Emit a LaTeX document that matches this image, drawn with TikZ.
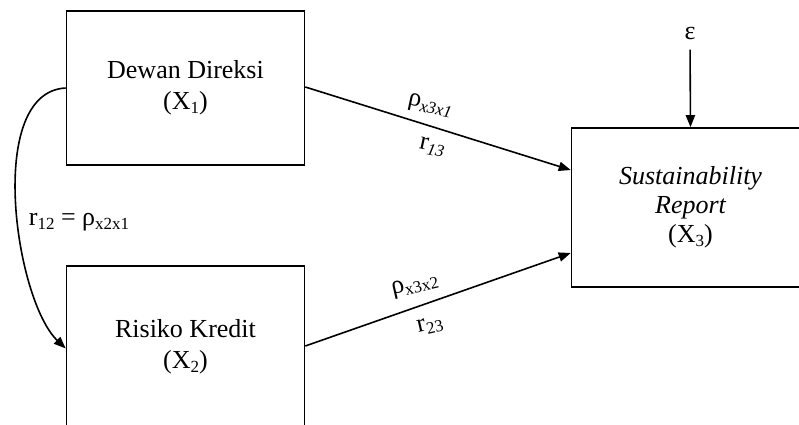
\documentclass[tikz,border=0pt]{standalone}
\usepackage{fontspec}
\setmainfont{Liberation Serif}
\usetikzlibrary{arrows.meta}

% lowered small index used in the variable names and path coefficients
\newcommand\lowsub[1]{\raisebox{-0.35ex}{\fontsize{8.5}{9}\selectfont #1}}

\begin{document}
\begin{tikzpicture}[x=0.5pt,y=-0.5pt,
  varbox/.style={draw,line width=0.8pt,minimum width=119pt,align=center,
    font=\fontsize{13}{15.5}\selectfont,inner sep=0pt},
  link/.style={line width=0.8pt,-{Triangle[length=6pt,width=4.6pt]}},
  coef/.style={font=\fontsize{13}{15}\selectfont,inner sep=0pt}]
  \useasboundingbox (0,0) rectangle (799,424);
  \clip (0,0) rectangle (799,424);

  % the three variables
  \node[varbox,minimum height=77pt] (b1) at (185.5,88)
    {Dewan Direksi\\(X\lowsub{1})};
  \node[varbox,minimum height=81pt] (b2) at (185.5,347)
    {Risiko Kredit\\(X\lowsub{2})};
  \node[varbox,minimum height=79.5pt,font=\fontsize{13}{14.5}\selectfont] (b3) at (690.5,207.5)
    {\itshape Sustainability\\\itshape Report\\(X\lowsub{3})};

  % residual term
  \node[inner sep=0pt,anchor=base,font=\fontsize{13}{15}\selectfont] (eps) at (690,39) {ε};
  \draw[link,shorten <=5pt] (eps.south) -- (b3.north);

  % direct paths
  \draw[link] ([yshift=0.5pt]b1.east) -- ([yshift=18.75pt]b3.west);
  \draw[link] ([yshift=0.5pt]b2.east) -- ([yshift=-22.75pt]b3.west);

  \node[coef,rotate=-12] (p13) at (430,106) {ρ\lowsub{\itshape x3x1}};
  \node[coef,rotate=-12] (r13) at (432,147) {r\lowsub{\itshape 13}};
  \node[coef,rotate=13] (p23) at (415,286) {ρ\lowsub{x3x2}};
  \node[coef,rotate=13] (r23) at (430,326) {r\lowsub{23}};

  % correlation between the two exogenous variables
  \draw[link] (b1.west) .. controls (-15,92) and (15,300) .. ([yshift=-0.75pt]b2.west);
  \node[coef] (r12) at (79,222) {r\lowsub{12} = ρ\lowsub{x2x1}};
\end{tikzpicture}
\end{document}
